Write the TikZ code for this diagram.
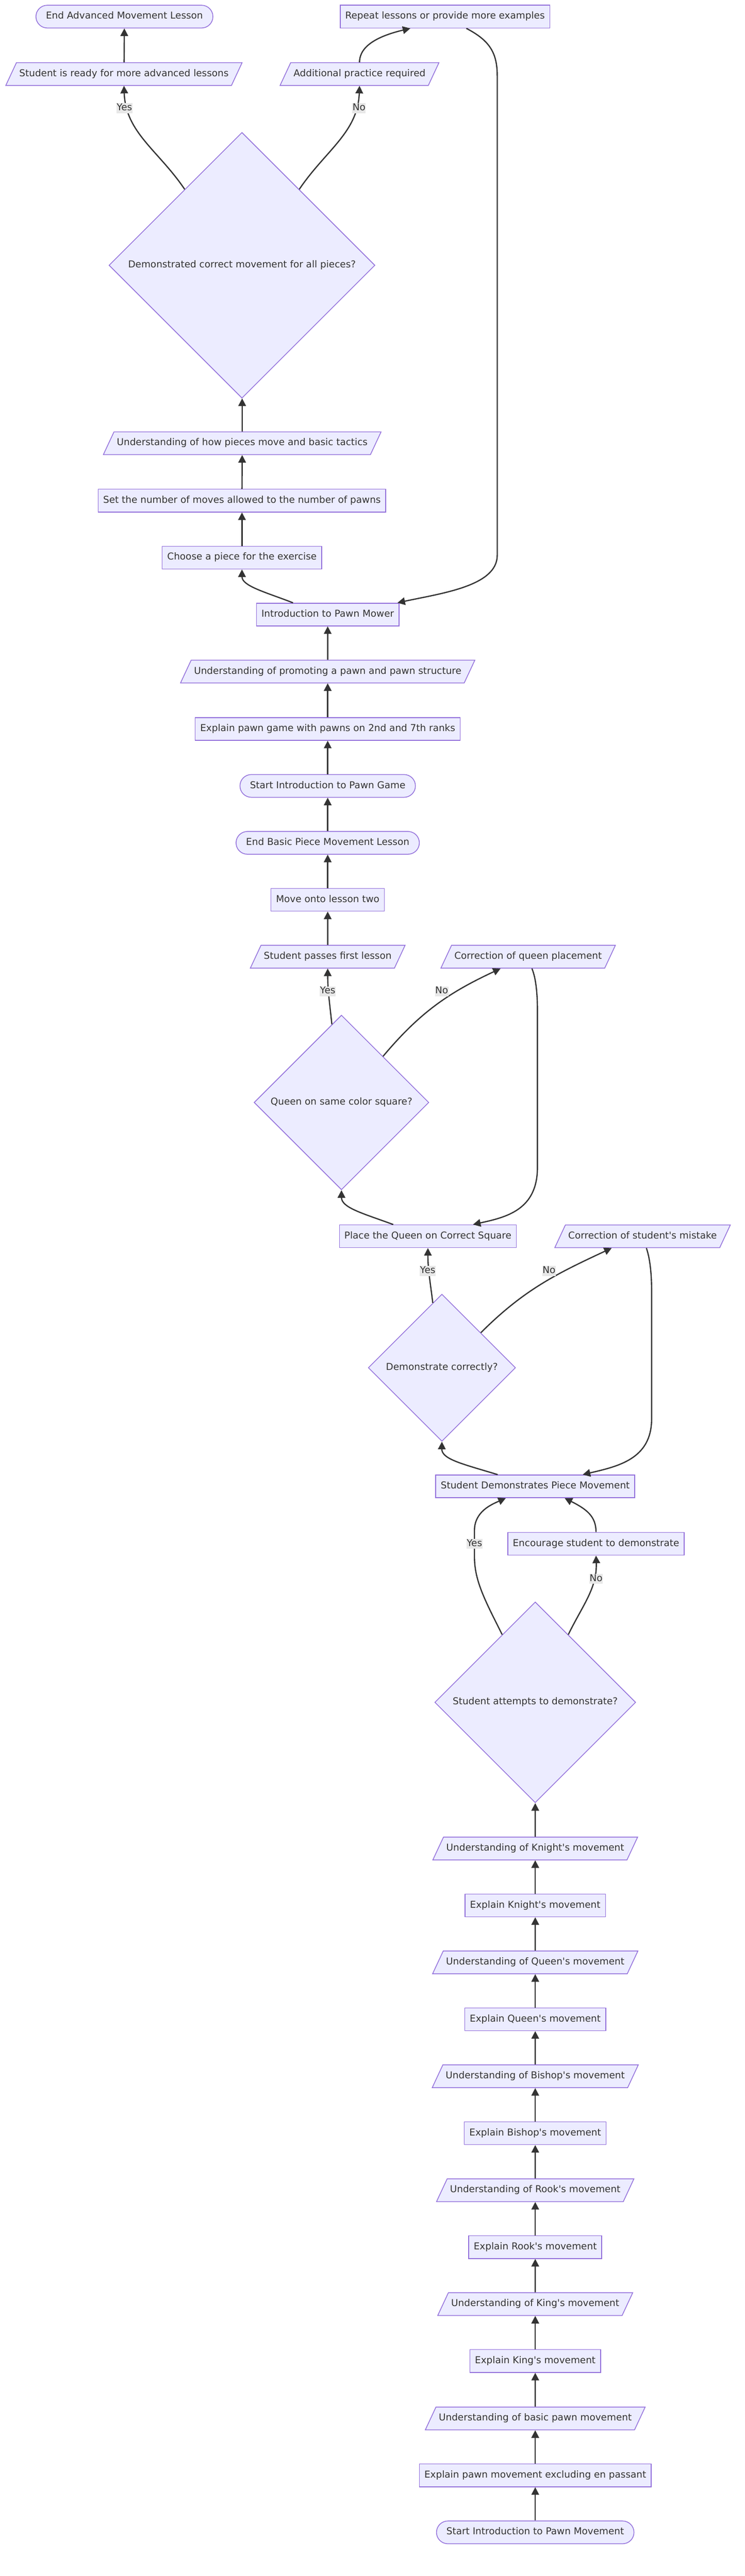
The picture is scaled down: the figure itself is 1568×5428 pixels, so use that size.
\documentclass[tikz,border=0pt]{standalone}
\usepackage{fontspec}
\setmainfont{DejaVu Sans}
\usetikzlibrary{arrows.meta,shapes.geometric}
\definecolor{nodefill}{HTML}{ECECFF}
\definecolor{nodeline}{HTML}{9370DB}
\definecolor{ink}{HTML}{333333}
\definecolor{labelbg}{HTML}{E8E8E8}
\newcommand{\q}{\textquotesingle}

\begin{document}
\begin{tikzpicture}[x=1pt,y=1pt,
   every node/.style={font=\fontsize{20}{24}\selectfont,text=ink},
   base/.style={draw=nodeline,fill=nodefill,line width=1.6pt,text height=15pt,text depth=5pt,inner ysep=14pt},
   box/.style={base,rectangle,inner xsep=10.5pt},
   term/.style={base,rectangle,rounded corners=24pt,inner xsep=21pt},
   para/.style={base,trapezium,trapezium left angle=65,trapezium right angle=115,inner xsep=6pt},
   decision/.style={base,diamond,inner sep=0pt,minimum size=#1},
   flow/.style={draw=ink,line width=2.6pt,-{Triangle[length=16pt,width=16pt]}},
   answer/.style={fill=labelbg,inner sep=0.5pt,text height=15pt,text depth=5pt}]
   \useasboundingbox (0,0) rectangle (1568,-5428);

   % advanced lesson
   \node[term] (endadv) at (262,-35) {End Advanced Movement Lesson};
   \node[box] (again) at (937,-35) {Repeat lessons or provide more examples};
   \node[para] (ready) at (261,-156) {Student is ready for more advanced lessons};
   \node[para] (practice) at (757,-156) {Additional practice required};
   \node[decision=560pt] (allok) at (509.5,-559) {Demonstrated correct movement for all pieces?};
   \node[para] (tactics) at (510,-934) {Understanding of how pieces move and basic tactics};
   \node[box] (setmoves) at (509.5,-1055) {Set the number of moves allowed to the number of pawns};
   \node[box] (choose) at (509.5,-1175) {Choose a piece for the exercise};

   % pawn game
   \node[box] (mower) at (690,-1295) {Introduction to Pawn Mower};
   \node[para] (promote) at (690,-1415) {Understanding of promoting a pawn and pawn structure};
   \node[box] (pawngame) at (690,-1536) {Explain pawn game with pawns on 2nd and 7th ranks};
   \node[term] (startgame) at (690,-1656) {Start Introduction to Pawn Game};
   \node[term] (endbasic) at (690,-1776) {End Basic Piece Movement Lesson};
   \node[box] (lessontwo) at (690,-1896) {Move onto lesson two};
   \node[para] (passes) at (690,-2016) {Student passes first lesson};
   \node[para] (fixqueen) at (1112,-2016) {Correction of queen placement};
   \node[decision=368pt] (samecolor) at (719,-2323) {Queen on same color square?};
   \node[box] (placeq) at (901,-2605) {Place the Queen on Correct Square};
   \node[para] (fixmistake) at (1353,-2605) {Correction of student\q s mistake};
   \node[decision=310pt] (correct) at (930.5,-2882) {Demonstrate correctly?};
   \node[box] (demo) at (1127,-3132) {Student Demonstrates Piece Movement};
   \node[box] (encourage) at (1255,-3253) {Encourage student to demonstrate};
   \node[decision=423pt] (attempt) at (1127,-3587) {Student attempts to demonstrate?};

   % basic piece movement
   \node[para] (undknight) at (1127,-3895) {Understanding of Knight\q s movement};
   \node[box] (knight) at (1127,-4015) {Explain Knight\q s movement};
   \node[para] (undqueen) at (1127,-4135) {Understanding of Queen\q s movement};
   \node[box] (queen) at (1127,-4255) {Explain Queen\q s movement};
   \node[para] (undbishop) at (1127,-4375) {Understanding of Bishop\q s movement};
   \node[box] (bishop) at (1127,-4495) {Explain Bishop\q s movement};
   \node[para] (undrook) at (1127,-4615) {Understanding of Rook\q s movement};
   \node[box] (rook) at (1127,-4735) {Explain Rook\q s movement};
   \node[para] (undking) at (1127,-4855) {Understanding of King\q s movement};
   \node[box] (king) at (1127,-4975) {Explain King\q s movement};
   \node[para] (undpawn) at (1127,-5096) {Understanding of basic pawn movement};
   \node[box] (pawn) at (1127,-5216) {Explain pawn movement excluding en passant};
   \node[term] (start) at (1127,-5336) {Start Introduction to Pawn Movement};

   \draw[flow] (start) -- (pawn);
   \draw[flow] (pawn) -- (undpawn);
   \draw[flow] (undpawn) -- (king);
   \draw[flow] (king) -- (undking);
   \draw[flow] (undking) -- (rook);
   \draw[flow] (rook) -- (undrook);
   \draw[flow] (undrook) -- (bishop);
   \draw[flow] (bishop) -- (undbishop);
   \draw[flow] (undbishop) -- (queen);
   \draw[flow] (queen) -- (undqueen);
   \draw[flow] (undqueen) -- (knight);
   \draw[flow] (knight) -- (undknight);
   \draw[flow] (undknight) -- (attempt);

   \draw[flow] (attempt.116) .. controls (1020,-3370) and (999,-3330) .. (999,-3280) -- (999,-3225) .. controls (999,-3185) and (1035,-3170) .. ([xshift=-62pt]demo.south);
   \draw[flow] (attempt.64) to[out=64,in=-88] (encourage.south);
   \draw[flow] (encourage.north) .. controls (1255,-3195) and (1235,-3180) .. ([xshift=62pt]demo.south);
   \draw[flow] ([xshift=-79pt]demo.north) .. controls (975,-3085) and (930,-3075) .. (correct.south);
   \draw[flow] (correct.98) to[out=97,in=-90] (placeq.south);
   \draw[flow] (correct.42) to[out=45,in=-155] ([xshift=-65pt]fixmistake.south);
   \draw[flow] ([xshift=8pt]fixmistake.south) .. controls (1368,-2650) and (1372,-2680) .. (1372,-2720) -- (1372,-2990) .. controls (1372,-3075) and (1300,-3090) .. ([xshift=100pt]demo.north);

   \draw[flow] ([xshift=-73pt]placeq.north) .. controls (765,-2557) and (719,-2545) .. (samecolor.south);
   \draw[flow] (samecolor.97) to[out=96,in=-90] (passes.south);
   \draw[flow] (samecolor.48) to[out=50,in=-155] ([xshift=-58pt]fixqueen.south);
   \draw[flow] ([xshift=8pt]fixqueen.south) .. controls (1128,-2060) and (1131.6,-2090) .. (1131.6,-2130) -- (1131.6,-2460) .. controls (1131.6,-2550) and (1065,-2565) .. ([xshift=95pt]placeq.north);

   \draw[flow] (passes) -- (lessontwo);
   \draw[flow] (lessontwo) -- (endbasic);
   \draw[flow] (endbasic) -- (startgame);
   \draw[flow] (startgame) -- (pawngame);
   \draw[flow] (pawngame) -- (promote);
   \draw[flow] (promote) -- (mower);
   \draw[flow] ([xshift=-73pt]mower.north) .. controls (560,-1248) and (509.5,-1235) .. (choose.south);
   \draw[flow] (choose) -- (setmoves);
   \draw[flow] (setmoves) -- (tactics);
   \draw[flow] (tactics) -- (allok);
   \draw[flow] (allok.127) to[out=124,in=-88] (ready.south);
   \draw[flow] (allok.53) to[out=56,in=-92] (practice.south);
   \draw[flow] (ready) -- (endadv);
   \draw[flow] (practice.north) .. controls (757,-95) and (800,-75) .. ([xshift=-73pt]again.south);
   \draw[flow] ([xshift=45pt]again.south) .. controls (1030,-85) and (1047,-110) .. (1047,-160) -- (1047,-1170) .. controls (1047,-1235) and (930,-1250) .. ([xshift=-4pt]mower.north east);

   % yes / no
   \node[answer] (yesready) at (262,-228) {Yes};
   \node[answer] (nopractice) at (756,-228) {No};
   \node[answer] (yespass) at (690,-2089) {Yes};
   \node[answer] (nofixqueen) at (930,-2089) {No};
   \node[answer] (yesplace) at (900.6,-2678) {Yes};
   \node[answer] (nofixmistake) at (1156,-2678) {No};
   \node[answer] (yesdemo) at (999,-3253) {Yes};
   \node[answer] (noencourage) at (1255,-3327) {No};
\end{tikzpicture}
\end{document}
